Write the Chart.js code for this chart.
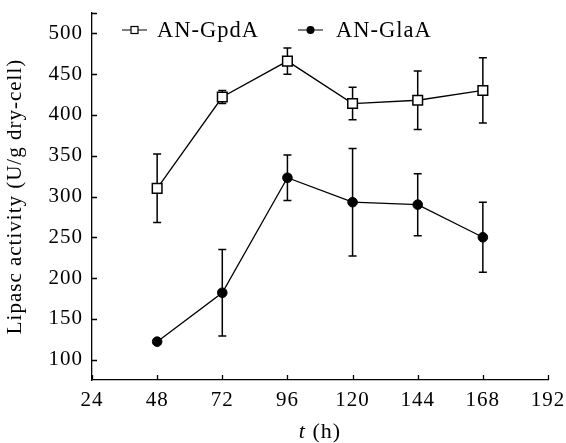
<!DOCTYPE html>
<html>
<head>
<meta charset="utf-8">
<script src="https://cdn.jsdelivr.net/npm/chart.js@4"></script>
<style>
  html, body { margin: 0; padding: 0; background: #fff; }
  #wrap { width: 566px; height: 443px; }
</style>
</head>
<body>
<div id="wrap"><canvas id="grafico"></canvas></div>
<script>
// Dados
const hours = [48, 72, 96, 120, 144, 168];
const gpdA = [310, 422, 466, 414, 418, 430];
const gpdAErr = [42, 8, 16, 20, 36, 40];
const glaA = [122, 182, 323, 293, 290, 250];
const glaAErr = [3, 53, 28, 66, 38, 43];
const xTicks = [24, 48, 72, 96, 120, 144, 168, 192];
const yTicks = [100, 150, 200, 250, 300, 350, 400, 450, 500];

const serif = '"Liberation Serif", "Times New Roman", serif';

// o texto da figura original é um pouco mais largo
const spacing = {
    id: 'spacing',
    beforeLayout(chart) { chart.ctx.letterSpacing = '1px'; },
    beforeDraw(chart) { chart.ctx.letterSpacing = '1px'; }
};

// barras de erro, marcas internas dos eixos, legenda e título do eixo x
const extras = {
    id: 'extras',
    beforeDatasetsDraw(chart) {
        const ctx = chart.ctx;
        const xs = chart.scales.x, ys = chart.scales.y;
        ctx.save();
        ctx.strokeStyle = '#000';
        ctx.lineWidth = 1.5;
        chart.data.datasets.forEach(ds => {
            ds.data.forEach((p, i) => {
                const e = ds.err[i];
                const x = xs.getPixelForValue(p.x);
                const top = ys.getPixelForValue(p.y + e);
                const bot = ys.getPixelForValue(p.y - e);
                ctx.beginPath();
                ctx.moveTo(x, top); ctx.lineTo(x, bot);
                ctx.moveTo(x - 4, top); ctx.lineTo(x + 4, top);
                ctx.moveTo(x - 4, bot); ctx.lineTo(x + 4, bot);
                ctx.stroke();
            });
        });
        ctx.restore();
    },
    afterDraw(chart) {
        const ctx = chart.ctx;
        const xs = chart.scales.x, ys = chart.scales.y;
        const area = chart.chartArea;
        ctx.save();
        ctx.strokeStyle = '#000';
        ctx.lineWidth = 1.3;
        ctx.beginPath();
        yTicks.concat([ys.max]).forEach(v => {
            const y = Math.round(ys.getPixelForValue(v)) + 0.5;
            ctx.moveTo(area.left, y); ctx.lineTo(area.left + 5, y);
        });
        xTicks.forEach(v => {
            const x = Math.round(xs.getPixelForValue(v)) + 0.5;
            ctx.moveTo(x, area.bottom); ctx.lineTo(x, area.bottom - 5);
        });
        ctx.stroke();

        // legenda
        ctx.lineWidth = 1.2;
        ctx.font = '22.5px ' + serif;
        ctx.fillStyle = '#000';
        ctx.textBaseline = 'middle';
        const ly = 30;
        ctx.beginPath();
        ctx.moveTo(122, ly); ctx.lineTo(147, ly);
        ctx.moveTo(298, ly); ctx.lineTo(323, ly);
        ctx.stroke();
        ctx.fillStyle = '#fff';
        ctx.fillRect(131, ly - 3.5, 7, 7);
        ctx.strokeRect(131, ly - 3.5, 7, 7);
        ctx.fillStyle = '#000';
        ctx.beginPath();
        ctx.arc(310.5, ly, 4, 0, Math.PI * 2);
        ctx.fill();
        ctx.fillText(chart.data.datasets[0].label, 157, ly + 1);
        ctx.fillText(chart.data.datasets[1].label, 336, ly + 1);

        // título do eixo x: t (h)
        ctx.textBaseline = 'alphabetic';
        const cx = (area.left + area.right) / 2;
        ctx.font = 'italic 22px ' + serif;
        const wt = ctx.measureText('t').width;
        ctx.font = '22px ' + serif;
        const wr = ctx.measureText(' (h)').width;
        const sx = cx - (wt + wr) / 2;
        ctx.font = 'italic 22px ' + serif;
        ctx.fillText('t', sx, 438);
        ctx.font = '22px ' + serif;
        ctx.fillText(' (h)', sx + wt, 438);
        ctx.restore();
    }
};

const ctx = document.getElementById('grafico').getContext('2d');
const grafico = new Chart(ctx, {
    type: 'line',
    data: {
        datasets: [{
            label: 'AN-GpdA',
            data: hours.map((h, i) => ({ x: h, y: gpdA[i] })),
            err: gpdAErr,
            borderColor: '#000',
            borderWidth: 1.3,
            pointStyle: 'rect',
            pointRadius: 6.8,
            pointBackgroundColor: '#fff',
            pointBorderColor: '#000',
            pointBorderWidth: 1.5,
            fill: false
        }, {
            label: 'AN-GlaA',
            data: hours.map((h, i) => ({ x: h, y: glaA[i] })),
            err: glaAErr,
            borderColor: '#000',
            borderWidth: 1.3,
            pointStyle: 'circle',
            pointRadius: 4.8,
            pointBackgroundColor: '#000',
            pointBorderColor: '#000',
            pointBorderWidth: 1,
            fill: false
        }]
    },
    options: {
        responsive: true,
        maintainAspectRatio: false,
        animation: false,
        layout: { padding: { top: 13, right: 18, bottom: 0, left: 0 } },
        plugins: {
            legend: { display: false },
            tooltip: { enabled: false }
        },
        scales: {
            x: {
                type: 'linear',
                min: 24,
                max: 192,
                afterBuildTicks: s => { s.ticks = xTicks.map(v => ({ value: v })); },
                afterFit: s => { s.height = 63; s.paddingLeft = 0; s.paddingRight = 0; },
                grid: { drawOnChartArea: false, drawTicks: false },
                border: { display: true, color: '#000', width: 1.3 },
                ticks: {
                    color: '#000',
                    padding: 8,
                    maxRotation: 0,
                    font: { family: serif, size: 21 }
                }
            },
            y: {
                min: 75,
                max: 525,
                afterBuildTicks: s => { s.ticks = yTicks.map(v => ({ value: v })); },
                afterFit: s => { s.width = 92; s.paddingTop = 0; s.paddingBottom = 0; },
                grid: { drawOnChartArea: false, drawTicks: false },
                border: { display: true, color: '#000', width: 1.3 },
                ticks: {
                    color: '#000',
                    padding: 9,
                    font: { family: serif, size: 21 }
                },
                title: {
                    display: true,
                    text: 'Lipasc activity (U/g dry-cell)',
                    color: '#000',
                    padding: { top: 3, bottom: 0 },
                    font: { family: serif, size: 21 }
                }
            }
        }
    },
    plugins: [spacing, extras]
});
</script>
</body>
</html>
